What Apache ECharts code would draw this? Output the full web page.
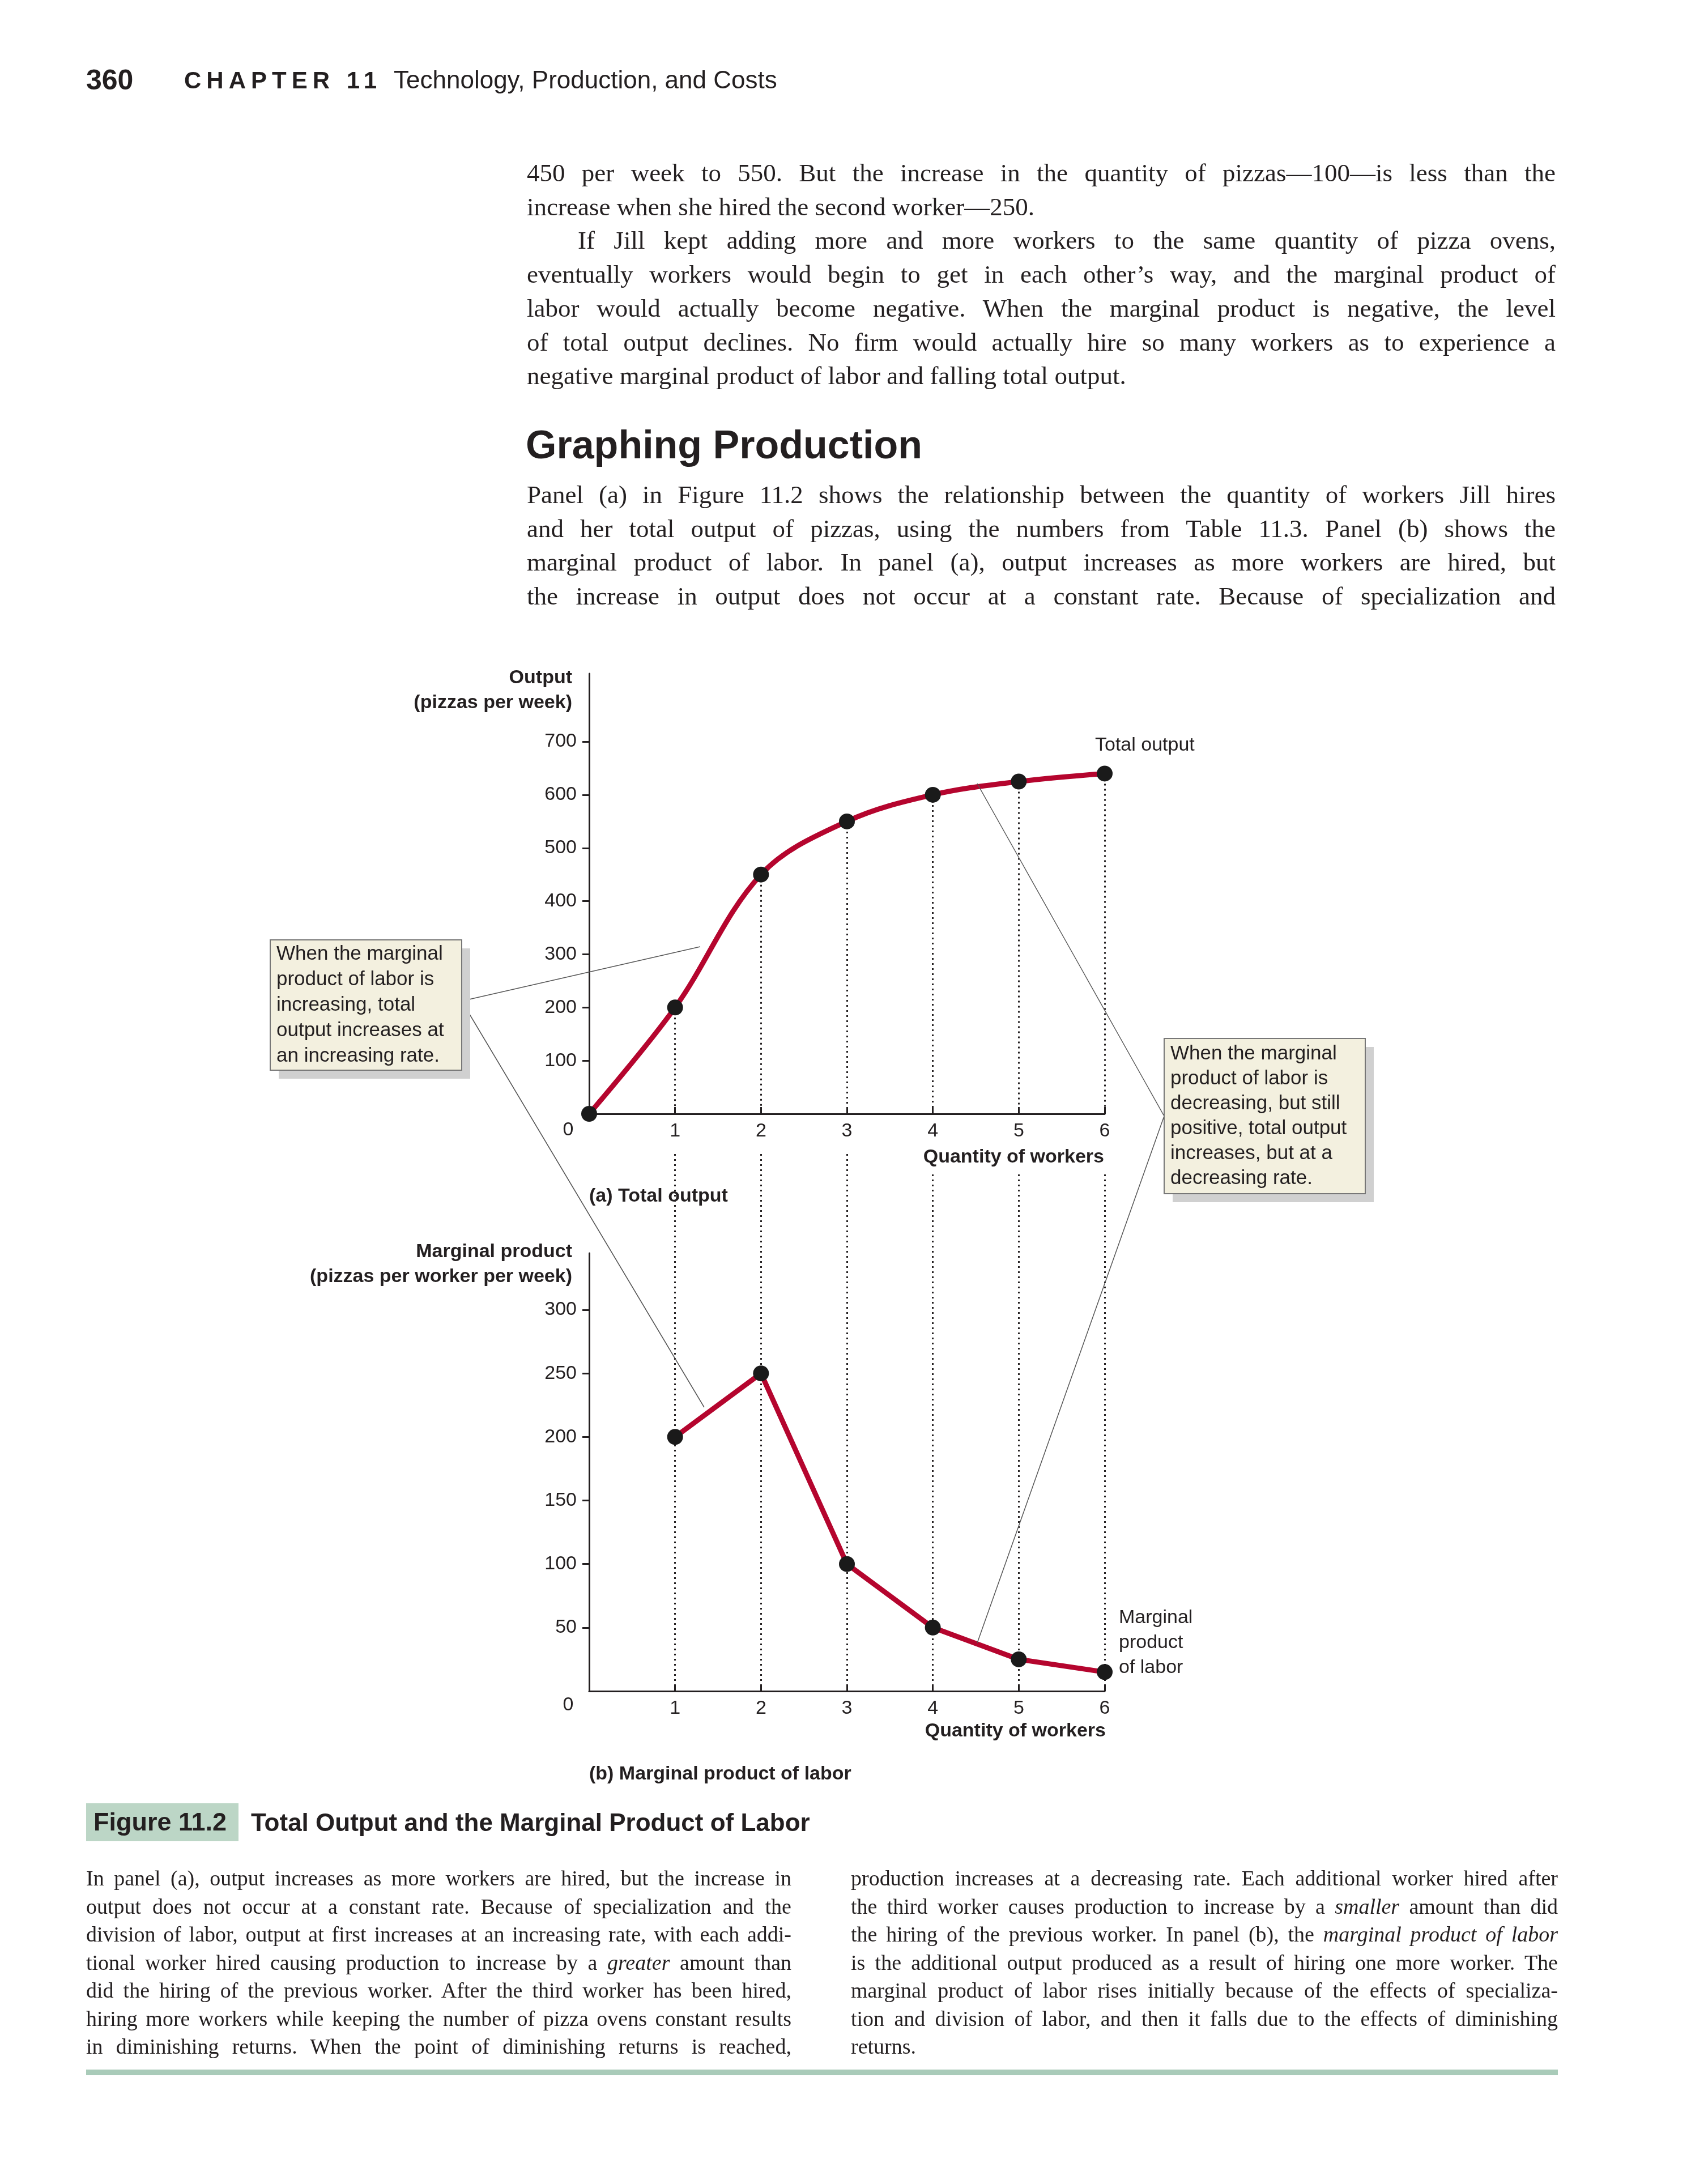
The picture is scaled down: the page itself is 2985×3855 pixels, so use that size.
<!DOCTYPE html>
<html>
<head>
<meta charset="utf-8">
<script src="https://cdn.jsdelivr.net/npm/echarts@6/dist/echarts.min.js"></script>
<style>
  body { margin:0; background:#fff; }
  #page { position:relative; width:2985px; height:3855px; overflow:hidden; }
  #chart { position:absolute; left:0; top:0; width:2985px; height:3855px; }
  .t { position:absolute; color:#231f20; }
  .serif { font-family:"Liberation Serif","DejaVu Serif",serif; }
  .sans { font-family:"Liberation Sans",Arial,sans-serif; }
  .j { text-align:justify; text-align-last:justify; white-space:nowrap; }
  .l { text-align:left; white-space:nowrap; }
</style>
</head>
<body>
<div id="page">
<div id="chart"></div>

<div class="t sans" style="left:152px;top:112px;font-size:50px;font-weight:bold;">360</div>
<div class="t sans" style="left:325px;top:118px;font-size:42px;font-weight:bold;letter-spacing:9px;">CHAPTER 11</div>
<div class="t sans" style="left:695px;top:116px;font-size:44px;">Technology, Production, and Costs</div>

<div class="t serif" style="left:930px;top:276px;width:1816px;font-size:45px;line-height:59.7px;">
  <div class="j">450 per week to 550. But the increase in the quantity of pizzas—100—is less than the</div>
  <div class="l">increase when she hired the second worker—250.</div>
  <div class="j" style="padding-left:90px;">If Jill kept adding more and more workers to the same quantity of pizza ovens,</div>
  <div class="j">eventually workers would begin to get in each other’s way, and the marginal product of</div>
  <div class="j">labor would actually become negative. When the marginal product is negative, the level</div>
  <div class="j">of total output declines. No firm would actually hire so many workers as to experience a</div>
  <div class="l">negative marginal product of labor and falling total output.</div>
</div>

<div class="t sans" style="left:928px;top:745px;font-size:70px;font-weight:bold;">Graphing Production</div>

<div class="t serif" style="left:930px;top:844px;width:1816px;font-size:45px;line-height:59.7px;">
  <div class="j">Panel (a) in Figure 11.2 shows the relationship between the quantity of workers Jill hires</div>
  <div class="j">and her total output of pizzas, using the numbers from Table 11.3. Panel (b) shows the</div>
  <div class="j">marginal product of labor. In panel (a), output increases as more workers are hired, but</div>
  <div class="j">the increase in output does not occur at a constant rate. Because of specialization and</div>
</div>

<div class="t" style="left:152px;top:3183px;width:269px;height:67px;background:#bcd6c6;"></div>
<div class="t sans" style="left:165px;top:3190px;font-size:45px;font-weight:bold;">Figure 11.2</div>
<div class="t sans" style="left:443px;top:3192px;font-size:44px;font-weight:bold;">Total Output and the Marginal Product of Labor</div>

<div class="t serif" style="left:152px;top:3291px;width:1245px;font-size:38px;line-height:49.5px;">
  <div class="j">In panel (a), output increases as more workers are hired, but the increase in</div>
  <div class="j">output does not occur at a constant rate. Because of specialization and the</div>
  <div class="j">division of labor, output at first increases at an increasing rate, with each addi-</div>
  <div class="j">tional worker hired causing production to increase by a <i>greater</i> amount than</div>
  <div class="j">did the hiring of the previous worker. After the third worker has been hired,</div>
  <div class="j">hiring more workers while keeping the number of pizza ovens constant results</div>
  <div class="j">in diminishing returns. When the point of diminishing returns is reached,</div>
</div>
<div class="t serif" style="left:1502px;top:3291px;width:1248px;font-size:38px;line-height:49.5px;">
  <div class="j">production increases at a decreasing rate. Each additional worker hired after</div>
  <div class="j">the third worker causes production to increase by a <i>smaller</i> amount than did</div>
  <div class="j">the hiring of the previous worker. In panel (b), the <i>marginal product of labor</i></div>
  <div class="j">is the additional output produced as a result of hiring one more worker. The</div>
  <div class="j">marginal product of labor rises initially because of the effects of specializa-</div>
  <div class="j">tion and division of labor, and then it falls due to the effects of diminishing</div>
  <div class="l">returns.</div>
</div>
<div class="t" style="left:152px;top:3653px;width:2598px;height:10px;background:#a9cbb9;"></div>
</div>

<script>
// data
var workers = [0, 1, 2, 3, 4, 5, 6];
var totalOutput = [0, 200, 450, 550, 600, 625, 640];
var mpWorkers = [1, 2, 3, 4, 5, 6];
var marginalProduct = [200, 250, 100, 50, 25, 15];
var outputTicks = [100, 200, 300, 400, 500, 600, 700];
var mpTicks = [50, 100, 150, 200, 250, 300];
var xTicks = [1, 2, 3, 4, 5, 6];

var red = '#b5052e';
var ink = '#231f20';
var font = '"Liberation Sans", Arial, sans-serif';

var chart = echarts.init(document.getElementById('chart'));

function xAx(idx, show) {
  return {
    gridIndex: idx, type: 'value', min: 0, max: 6,
    axisLine: { show: show, lineStyle: { color: ink, width: 3 } },
    axisTick: { show: show, inside: true, length: 12, customValues: xTicks, lineStyle: { color: ink, width: 3 } },
    axisLabel: { show: show, customValues: xTicks, margin: 14, color: ink, fontSize: 34, fontFamily: font },
    splitLine: { show: false }
  };
}
function yAx(idx, max, ticks, show) {
  return {
    gridIndex: idx, type: 'value', min: 0, max: max,
    axisLine: { show: show, lineStyle: { color: ink, width: 3 } },
    axisTick: { show: show, length: 12, customValues: ticks, lineStyle: { color: ink, width: 3 } },
    axisLabel: { show: show, customValues: ticks, margin: 22, color: ink, fontSize: 34, fontFamily: font },
    splitLine: { show: false }
  };
}
var dotted = { color: ink, width: 3, type: [3, 6] };

var option = {
  animation: false,
  grid: [
    { left: 1040, width: 910, top: 1189, height: 777 },
    { left: 1040, width: 910, top: 2212, height: 773 },
    { left: 1040, width: 910, top: 2035, height: 950 }
  ],
  xAxis: [xAx(0, true), xAx(1, true), xAx(2, false)],
  yAxis: [yAx(0, 828, outputTicks, true), yAx(1, 344.6, mpTicks, true), yAx(2, 1, [], false)],
  series: [
    {
      type: 'line', xAxisIndex: 2, yAxisIndex: 2, symbol: 'none',
      data: mpWorkers.map(function (w) { return [w, 0]; }),
      lineStyle: { opacity: 0 },
      markLine: { silent: true, symbol: 'none', label: { show: false }, lineStyle: dotted,
        data: mpWorkers.map(function (w) { return { xAxis: w }; }) }
    },
    {
      type: 'line', xAxisIndex: 0, yAxisIndex: 0, smooth: 0.35, z: 5,
      data: workers.map(function (w, i) { return [w, totalOutput[i]]; }),
      lineStyle: { color: red, width: 9 },
      symbol: 'circle', symbolSize: 28, itemStyle: { color: '#1a1a1a' },
      markLine: { silent: true, symbol: 'none', label: { show: false }, lineStyle: dotted,
        data: mpWorkers.map(function (w) { return [{ coord: [w, totalOutput[w]] }, { coord: [w, 0] }]; }) }
    },
    {
      type: 'line', xAxisIndex: 1, yAxisIndex: 1, z: 5,
      data: mpWorkers.map(function (w, i) { return [w, marginalProduct[i]]; }),
      lineStyle: { color: red, width: 9 },
      symbol: 'circle', symbolSize: 28, itemStyle: { color: '#1a1a1a' }
    }
  ],
  graphic: []
};

function txt(x, y, s, opt) {
  opt = opt || {};
  return { type: 'text', x: x, y: y, z: 50, style: {
    text: s, fill: ink, font: (opt.bold ? 'bold ' : '') + (opt.size || 34) + 'px ' + font,
    align: opt.align || 'left', verticalAlign: opt.va || 'middle',
    lineHeight: opt.lh || 42, backgroundColor: opt.bg, padding: opt.pad } };
}
var g = option.graphic;
// leader lines
var lead = { stroke: '#555', lineWidth: 1.5 };
g.push({ type: 'line', z: 20, shape: { x1: 815, y1: 1767, x2: 1236, y2: 1671 }, style: lead });
g.push({ type: 'line', z: 20, shape: { x1: 815, y1: 1767, x2: 1243, y2: 2484 }, style: lead });
g.push({ type: 'line', z: 20, shape: { x1: 2055, y1: 1970, x2: 1725, y2: 1383 }, style: lead });
g.push({ type: 'line', z: 20, shape: { x1: 2055, y1: 1970, x2: 1725, y2: 2900 }, style: lead });
// boxes
g.push({ type: 'rect', z: 30, shape: { x: 492, y: 1674, width: 338, height: 230 }, style: { fill: '#d0d0d0' } });
g.push({ type: 'rect', z: 31, shape: { x: 477, y: 1659, width: 338, height: 230 }, style: { fill: '#f3f0df', stroke: '#777', lineWidth: 2 } });
g.push(txt(488, 1774, 'When the marginal\nproduct of labor is\nincreasing, total\noutput increases at\nan increasing rate.', { size: 35, lh: 45 }));
g.push({ type: 'rect', z: 30, shape: { x: 2070, y: 1848, width: 355, height: 274 }, style: { fill: '#d0d0d0' } });
g.push({ type: 'rect', z: 31, shape: { x: 2055, y: 1833, width: 355, height: 274 }, style: { fill: '#f3f0df', stroke: '#777', lineWidth: 2 } });
g.push(txt(2066, 1970, 'When the marginal\nproduct of labor is\ndecreasing, but still\npositive, total output\nincreases, but at a\ndecreasing rate.', { size: 35, lh: 44 }));
// axis titles & labels
g.push(txt(1010, 1219, 'Output\n(pizzas per week)', { bold: true, align: 'right', lh: 44 }));
g.push(txt(1010, 2232, 'Marginal product\n(pizzas per worker per week)', { bold: true, align: 'right', lh: 44 }));
g.push(txt(1003, 1995, '0', { align: 'center' }));
g.push(txt(1003, 3010, '0', { align: 'center' }));
g.push(txt(1955, 2043, 'Quantity of workers', { bold: true, align: 'right', bg: '#fff', pad: [4, 6, 4, 6] }));
g.push(txt(1958, 3056, 'Quantity of workers', { bold: true, align: 'right', bg: '#fff', pad: [4, 6, 4, 6] }));
g.push(txt(1040, 2112, '(a) Total output', { bold: true }));
g.push(txt(1040, 3132, '(b) Marginal product of labor', { bold: true }));
g.push(txt(1933, 1316, 'Total output'));
g.push(txt(1975, 2900, 'Marginal\nproduct\nof labor', { lh: 44 }));

chart.setOption(option);
</script>
</body>
</html>
